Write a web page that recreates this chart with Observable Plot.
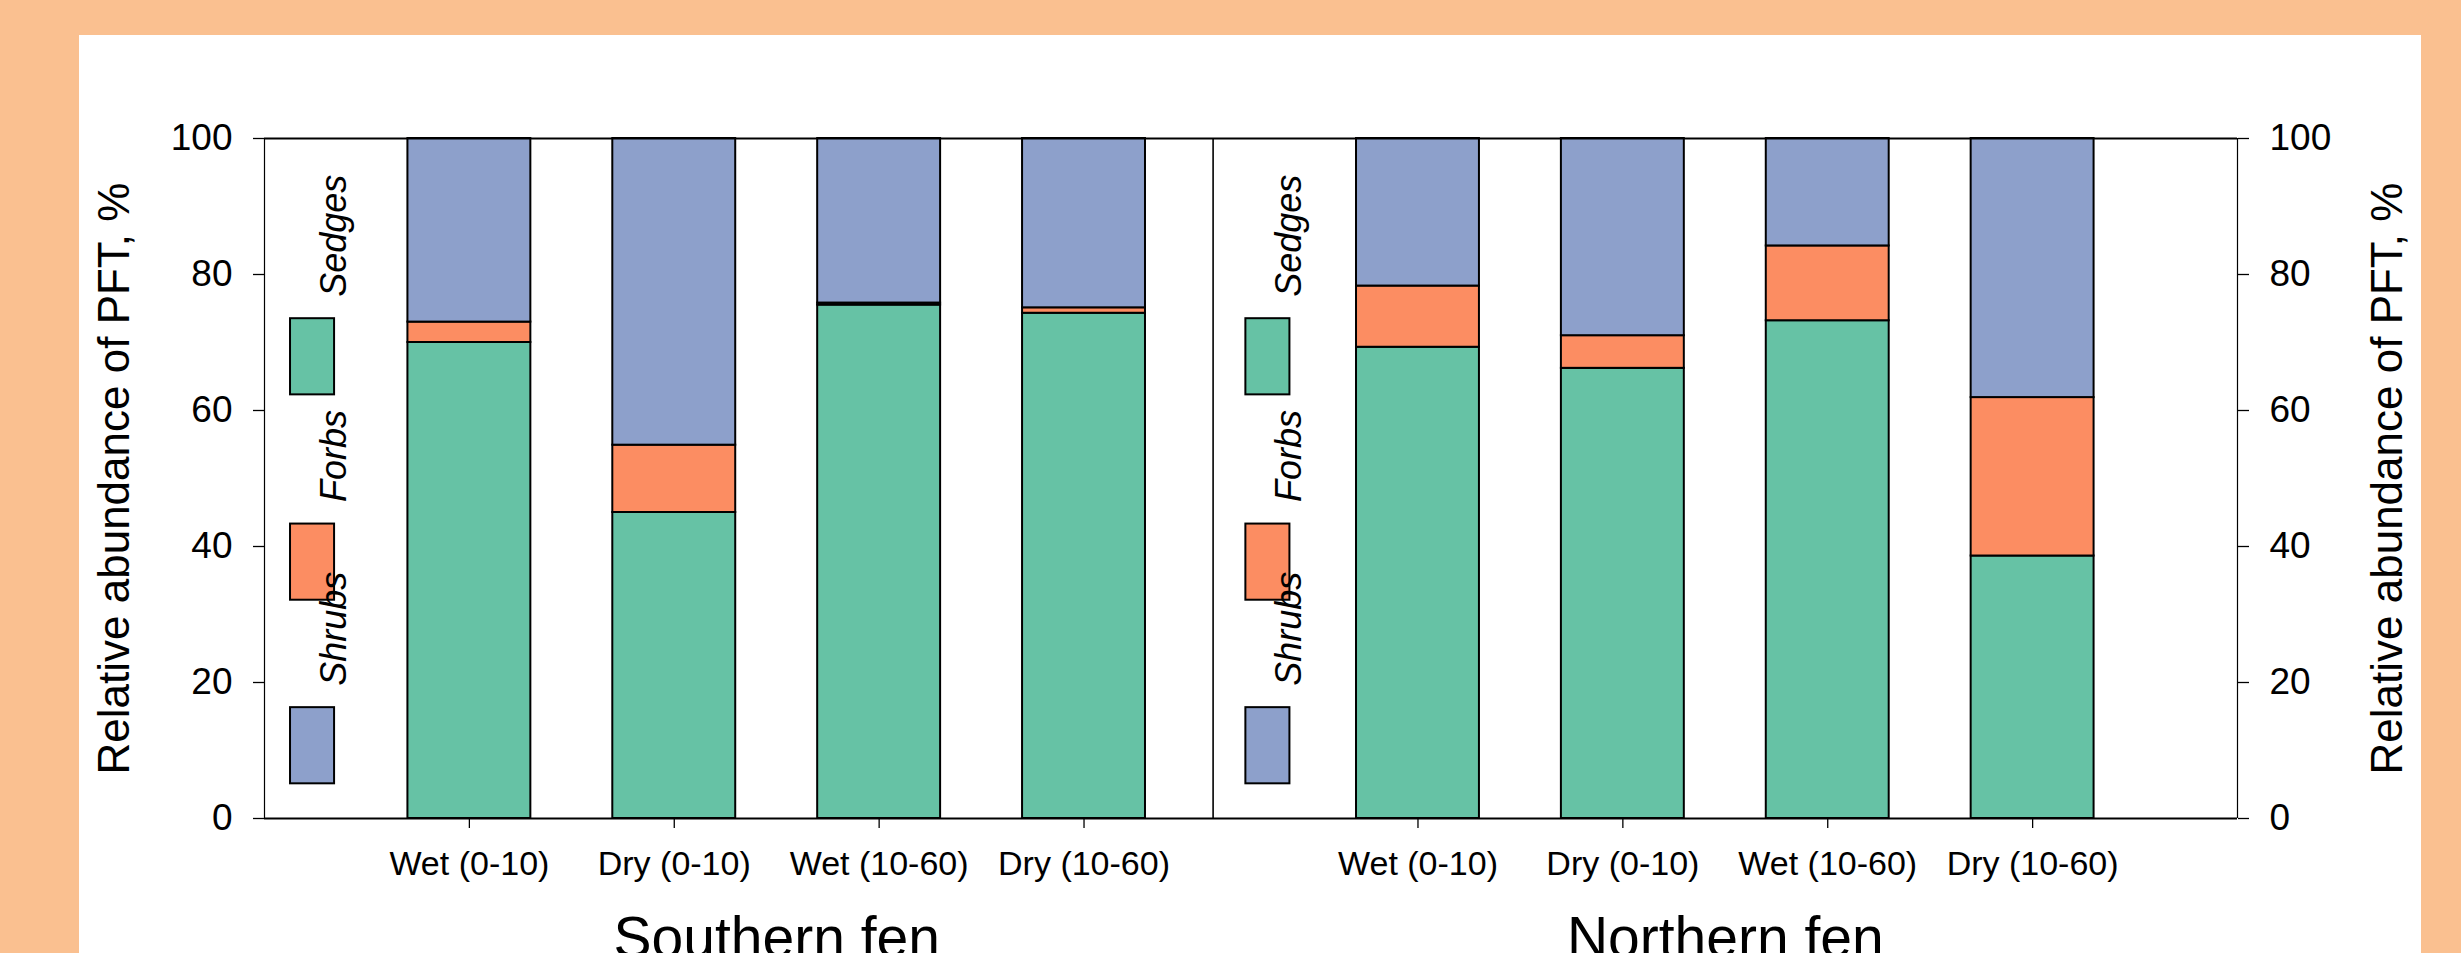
<!DOCTYPE html>
<html><head><meta charset="utf-8">
<script src="https://cdn.jsdelivr.net/npm/d3@7"></script>
<script src="https://cdn.jsdelivr.net/npm/@observablehq/plot@0.6"></script>
<style>
html,body{margin:0;padding:0;background:#FAC090;overflow:hidden;width:2461px;height:953px;}
#panel{position:absolute;left:79px;top:35px;width:2342px;height:918px;background:#fff;overflow:hidden;}
</style></head><body><div id="panel"></div>
<script>
// ---- data ----
const groups = ["Southern fen", "Northern fen"];
const sites = ["Wet (0-10)", "Dry (0-10)", "Wet (10-60)", "Dry (10-60)"];
const pfts = ["Sedges", "Forbs", "Shrubs"];
const pftColors = ["#66C2A5", "#FC8D62", "#8DA0CB"];
const sedgesSouth = [70.0, 45.0, 75.5, 74.3];
const forbsSouth  = [3.0, 9.9, 0.3, 0.8];
const shrubsSouth = [27.0, 45.1, 24.2, 24.9];
const sedgesNorth = [69.3, 66.2, 73.2, 38.6];
const forbsNorth  = [9.0, 4.8, 11.0, 23.3];
const shrubsNorth = [21.7, 29.0, 15.8, 38.1];
const yTicks = [0, 20, 40, 60, 80, 100];
const yTitle = "Relative abundance of PFT, %";

// ---- layout ----
const W = 2342, H = 918;
const groupStart = [0, 4.63];
const xMax = 9.63;
const barHalf = 0.3;
const legendX = [0.127, 0.16];
const legendW = 0.215;
const legendLabelDx = 0.27;
const legendRectTop = [73.5, 43.3, 16.3];
const legendRectH = 11.2;
const legendLabelY = [85.7, 53.3, 27.9];

const values = {
  "Southern fen": {Sedges: sedgesSouth, Forbs: forbsSouth, Shrubs: shrubsSouth},
  "Northern fen": {Sedges: sedgesNorth, Forbs: forbsNorth, Shrubs: shrubsNorth}
};
const rows = [];
const tickPos = [];
const tickLabel = new Map();
groups.forEach((g, gi) => sites.forEach((s, si) => {
  const pos = groupStart[gi] + si + 1;
  tickPos.push(pos); tickLabel.set(pos, s);
  let base = 0;
  pfts.forEach(p => {
    const v = values[g][p][si];
    rows.push({group: g, site: s, pft: p, pos, y1: base, y2: base + v});
    base += v;
  });
}));
const legendRows = [];
groups.forEach((g, gi) => pfts.forEach((p, pi) => {
  const x1 = groupStart[gi] + legendX[gi];
  legendRows.push({pft: p, x1, x2: x1 + legendW, y2: legendRectTop[pi], y1: legendRectTop[pi] - legendRectH,
    lx: x1 + legendLabelDx, ly: legendLabelY[pi]});
}));

const chart = Plot.plot({
  width: W, height: H,
  marginLeft: 185, marginRight: 184, marginTop: 103, marginBottom: 135,
  style: {fontFamily: "'Liberation Sans', Arial, sans-serif", background: "white", color: "black", overflow: "hidden"},
  x: {domain: [0, xMax]},
  y: {domain: [0, 100]},
  color: {domain: pfts, range: pftColors},
  marks: [
    Plot.rect(rows, {x1: d => d.pos - barHalf, x2: d => d.pos + barHalf, y1: "y1", y2: "y2",
      fill: "pft", stroke: "black", strokeWidth: 2}),
    Plot.rect(legendRows, {x1: "x1", x2: "x2", y1: "y1", y2: "y2", fill: "pft", stroke: "black", strokeWidth: 2}),
    Plot.text(legendRows, {x: "lx", y: "ly", text: "pft", rotate: -90, lineAnchor: "bottom", textAnchor: "middle",
      fontStyle: "italic", fontSize: 36, fill: "black"}),
    Plot.ruleY([0, 100], {strokeWidth: 2.2}),
    Plot.ruleX([0, xMax], {strokeWidth: 1.2}),
    Plot.ruleX([groupStart[1]], {strokeWidth: 1.6}),
    Plot.axisY(yTicks, {anchor: "left", tickSize: 11, tickPadding: 21, fontSize: 37, label: null, strokeWidth: 1.3}),
    Plot.axisY(yTicks, {anchor: "right", tickSize: 11, tickPadding: 21, fontSize: 37, label: null, strokeWidth: 1.3}),
    Plot.axisX(tickPos, {anchor: "bottom", tickSize: 10, tickPadding: 22, fontSize: 34, label: null,
      tickFormat: d => tickLabel.get(d), strokeWidth: 1.3}),
    Plot.text([yTitle], {frameAnchor: "left", dx: -136, rotate: -90, lineAnchor: "bottom", textAnchor: "middle", fontSize: 44}),
    Plot.text([yTitle], {frameAnchor: "right", dx: 164, rotate: -90, lineAnchor: "bottom", textAnchor: "middle", fontSize: 44}),
    Plot.text(groups, {x: (g, i) => groupStart[i] + 2.5, frameAnchor: "bottom", dy: 138,
      lineAnchor: "bottom", textAnchor: "middle", fontSize: 57})
  ]
});
document.getElementById("panel").appendChild(chart);
</script>
</body></html>
